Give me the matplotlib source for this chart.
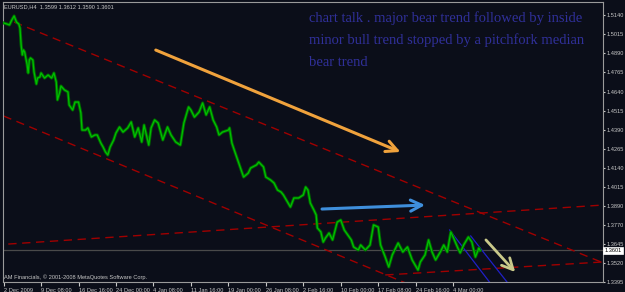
import matplotlib
matplotlib.use("Agg")
import matplotlib.pyplot as plt

# ---------------- data ----------------
bars = [0, 3, 5, 7, 9, 11, 13, 14, 15, 16, 17, 18, 20, 21, 22, 23, 25, 26, 28, 29,
        31, 32, 35, 38, 41, 43, 45, 46, 48, 49, 52, 55, 56, 59, 61, 64, 66, 67, 70, 72,
        75, 78, 80, 83, 85, 87, 89, 91, 94, 96, 99, 102, 106, 109, 112, 115, 118, 120, 124, 126,
        129, 132, 136, 140, 143, 147, 151, 154, 158, 160, 163, 167, 170, 173, 176, 179, 182, 184, 187, 192,
        193, 195, 197, 200, 203, 205, 209, 211, 216, 218, 222, 224, 228, 231, 234, 237, 239, 243, 245, 248,
        252, 256, 258, 260, 262, 265, 267, 268, 271, 273, 275, 278, 281, 285, 288, 291, 294, 297, 299, 303,
        305, 309, 313, 316, 320, 322, 326, 329, 332, 337, 341, 345, 349, 354, 356, 360, 363, 366, 369, 373,
        376, 379, 382, 384, 388, 390, 393, 397, 400, 403, 406, 407]
close = [1.5088, 1.5081, 1.5075, 1.5107, 1.5134, 1.5094, 1.5081, 1.5055, 1.4944, 1.4879,
         1.4911, 1.4898, 1.4820, 1.4761, 1.4846, 1.4859, 1.4846, 1.4768, 1.4689, 1.4728,
         1.4735, 1.4761, 1.4728, 1.4748, 1.4728, 1.4761, 1.4702, 1.4585, 1.4637, 1.4676,
         1.4650, 1.4637, 1.4552, 1.4519, 1.4571, 1.4571, 1.4500, 1.4388, 1.4388, 1.4402,
         1.4343, 1.4356, 1.4356, 1.4304, 1.4277, 1.4245, 1.4225, 1.4277, 1.4323, 1.4369,
         1.4408, 1.4375, 1.4402, 1.4441, 1.4343, 1.4402, 1.4310, 1.4421, 1.4290, 1.4402,
         1.4454, 1.4434, 1.4323, 1.4408, 1.4356, 1.4310, 1.4290, 1.4434, 1.4539, 1.4519,
         1.4473, 1.4506, 1.4565, 1.4487, 1.4539, 1.4454, 1.4408, 1.4356, 1.4375, 1.4388,
         1.4402, 1.4304, 1.4258, 1.4192, 1.4127, 1.4081, 1.4107, 1.4140, 1.4160, 1.4179,
         1.4147, 1.4081, 1.4062, 1.4042, 1.3996, 1.3983, 1.3964, 1.3911, 1.3885, 1.3944,
         1.3944, 1.3964, 1.4016, 1.3996, 1.3911, 1.3866, 1.3833, 1.3748, 1.3722, 1.3656,
         1.3683, 1.3715, 1.3670, 1.3787, 1.3800, 1.3735, 1.3702, 1.3670, 1.3624, 1.3604,
         1.3637, 1.3604, 1.3637, 1.3768, 1.3754, 1.3637, 1.3558, 1.3493, 1.3572, 1.3650,
         1.3591, 1.3624, 1.3539, 1.3473, 1.3526, 1.3572, 1.3670, 1.3591, 1.3539, 1.3591,
         1.3637, 1.3591, 1.3722, 1.3689, 1.3617, 1.3585, 1.3637, 1.3689, 1.3656, 1.3558,
         1.3617, 1.3601]

last_price = 1.3601
header = "EURUSD,H4  1.3599 1.3612 1.3590 1.3601"
footer = "AM Financials, \u00a9 2001-2008 MetaQuotes Software Corp."

ytick_vals = [1.5140, 1.5015, 1.4890, 1.4765, 1.4640, 1.4515, 1.4390, 1.4265,
              1.4140, 1.4015, 1.3890, 1.3770, 1.3645, 1.3520, 1.3395]
xtick_bars = [0, 32, 64, 96, 128, 160, 192, 224, 256, 288, 320, 352, 384]
xtick_labels = ["2 Dec 2009", "9 Dec 08:00", "16 Dec 16:00", "24 Dec 00:00", "4 Jan 08:00",
                "11 Jan 16:00", "19 Jan 00:00", "26 Jan 08:00", "2 Feb 16:00", "10 Feb 00:00",
                "17 Feb 08:00", "24 Feb 16:00", "4 Mar 00:00"]

# trendlines: (bar0, price0, bar1, price1)
trend_upper = (9, 1.5094, 407, 1.3849)
trend_lower = (0, 1.4480, 331, 1.3428)
trend_rise_hi = (4, 1.3643, 512, 1.3898)
trend_rise_lo = (326, 1.3441, 512, 1.3526)
pitch_1 = (381, 1.3735, 415, 1.3395)
pitch_2 = (399, 1.3696, 430, 1.3395)

arrow_orange = ((130, 1.4911), (339, 1.4245))
arrow_blue = ((272, 1.3872), (360, 1.3898))
arrow_yellow = ((412, 1.3670), (437, 1.3460))

note = ["chart talk . major bear trend followed by inside",
        "minor bull trend stopped by a pitchfork median",
        "bear trend"]

# ---------------- style ----------------
BG = "#0b0e19"
W, H = 625, 292
fig = plt.figure(figsize=(W / 100, H / 100), dpi=100, facecolor=BG)
ax = fig.add_axes([3 / W, (H - 282) / H, 600 / W, 280 / H])
ax.set_facecolor(BG)

x0, x1 = -0.5, 512
y0, y1 = 1.3395, 1.3395 + 280 * 0.0006536
ax.set_xlim(x0, x1)
ax.set_ylim(y0, y1)

for s in ax.spines.values():
    s.set_color("#9a9a9a")
    s.set_linewidth(0.8)

# current price line
ax.axhline(last_price, color="#4a4a4a", lw=0.9, zorder=1)

def extline(seg, **kw):
    bx0, p0, bx1, p1 = seg
    k = (p1 - p0) / (bx1 - bx0)
    ax.plot([bx0, x1], [p0, p0 + k * (x1 - bx0)], **kw)

red = dict(color="#a00000", lw=1.0, dashes=(6, 4), zorder=2)
extline(trend_upper, **red)
extline(trend_lower, **red)
extline(trend_rise_hi, **red)
extline(trend_rise_lo, **red)

for seg in (pitch_1, pitch_2):
    ax.plot([seg[0], seg[2]], [seg[1], seg[3]], color="#2020c8", lw=0.9, zorder=2)

ax.plot(bars, close, color="#006a00", lw=2.2, zorder=3)
ax.plot(bars, close, color="#00c000", lw=0.9, zorder=4)

def arrow(pts, color, lw):
    ax.annotate("", xy=pts[1], xytext=pts[0],
                arrowprops=dict(arrowstyle="->,head_length=0.8,head_width=0.4",
                                color=color, lw=lw, shrinkA=0, shrinkB=0),
                zorder=5)

arrow(arrow_orange, "#f0a23c", 2.2)
arrow(arrow_blue, "#3f8fdc", 2.2)
arrow(arrow_yellow, "#c9c98a", 2.0)

for i, line in enumerate(note):
    fig.text(309 / W, 1 - (22 + 22 * i) / H, line, color="#30309a",
             fontsize=10.5, family="Liberation Serif", ha="left", va="baseline")

lab = dict(color="#c8c8c8", fontsize=4.1, family="Liberation Sans")
fig.text(4 / W, 1 - 7 / H, header, ha="left", va="center", **lab)
ax.text(0.002, 0.008, footer, transform=ax.transAxes, ha="left", va="bottom", **lab)

# axes ticks
ax.yaxis.tick_right()
ax.set_yticks(ytick_vals)
ax.set_yticklabels([f"{v:.4f}" for v in ytick_vals], **lab)
ax.tick_params(axis="y", length=1.5, width=0.8, color="#c8c8c8", pad=0.8)
ax.set_xticks(xtick_bars)
ax.set_xticklabels(xtick_labels, ha="left", **lab)
ax.tick_params(axis="x", length=3, width=0.8, color="#c8c8c8", pad=1)

ax.text(1.002, last_price, f"{last_price:.4f}", transform=ax.get_yaxis_transform(),
        ha="left", va="center", color="#000000", fontsize=4.1, family="Liberation Sans",
        bbox=dict(boxstyle="square,pad=0.2", fc="#ffffff", ec="#ffffff", lw=0.5),
        zorder=6, clip_on=False)

fig.savefig("out.png", dpi=100, facecolor=BG)
